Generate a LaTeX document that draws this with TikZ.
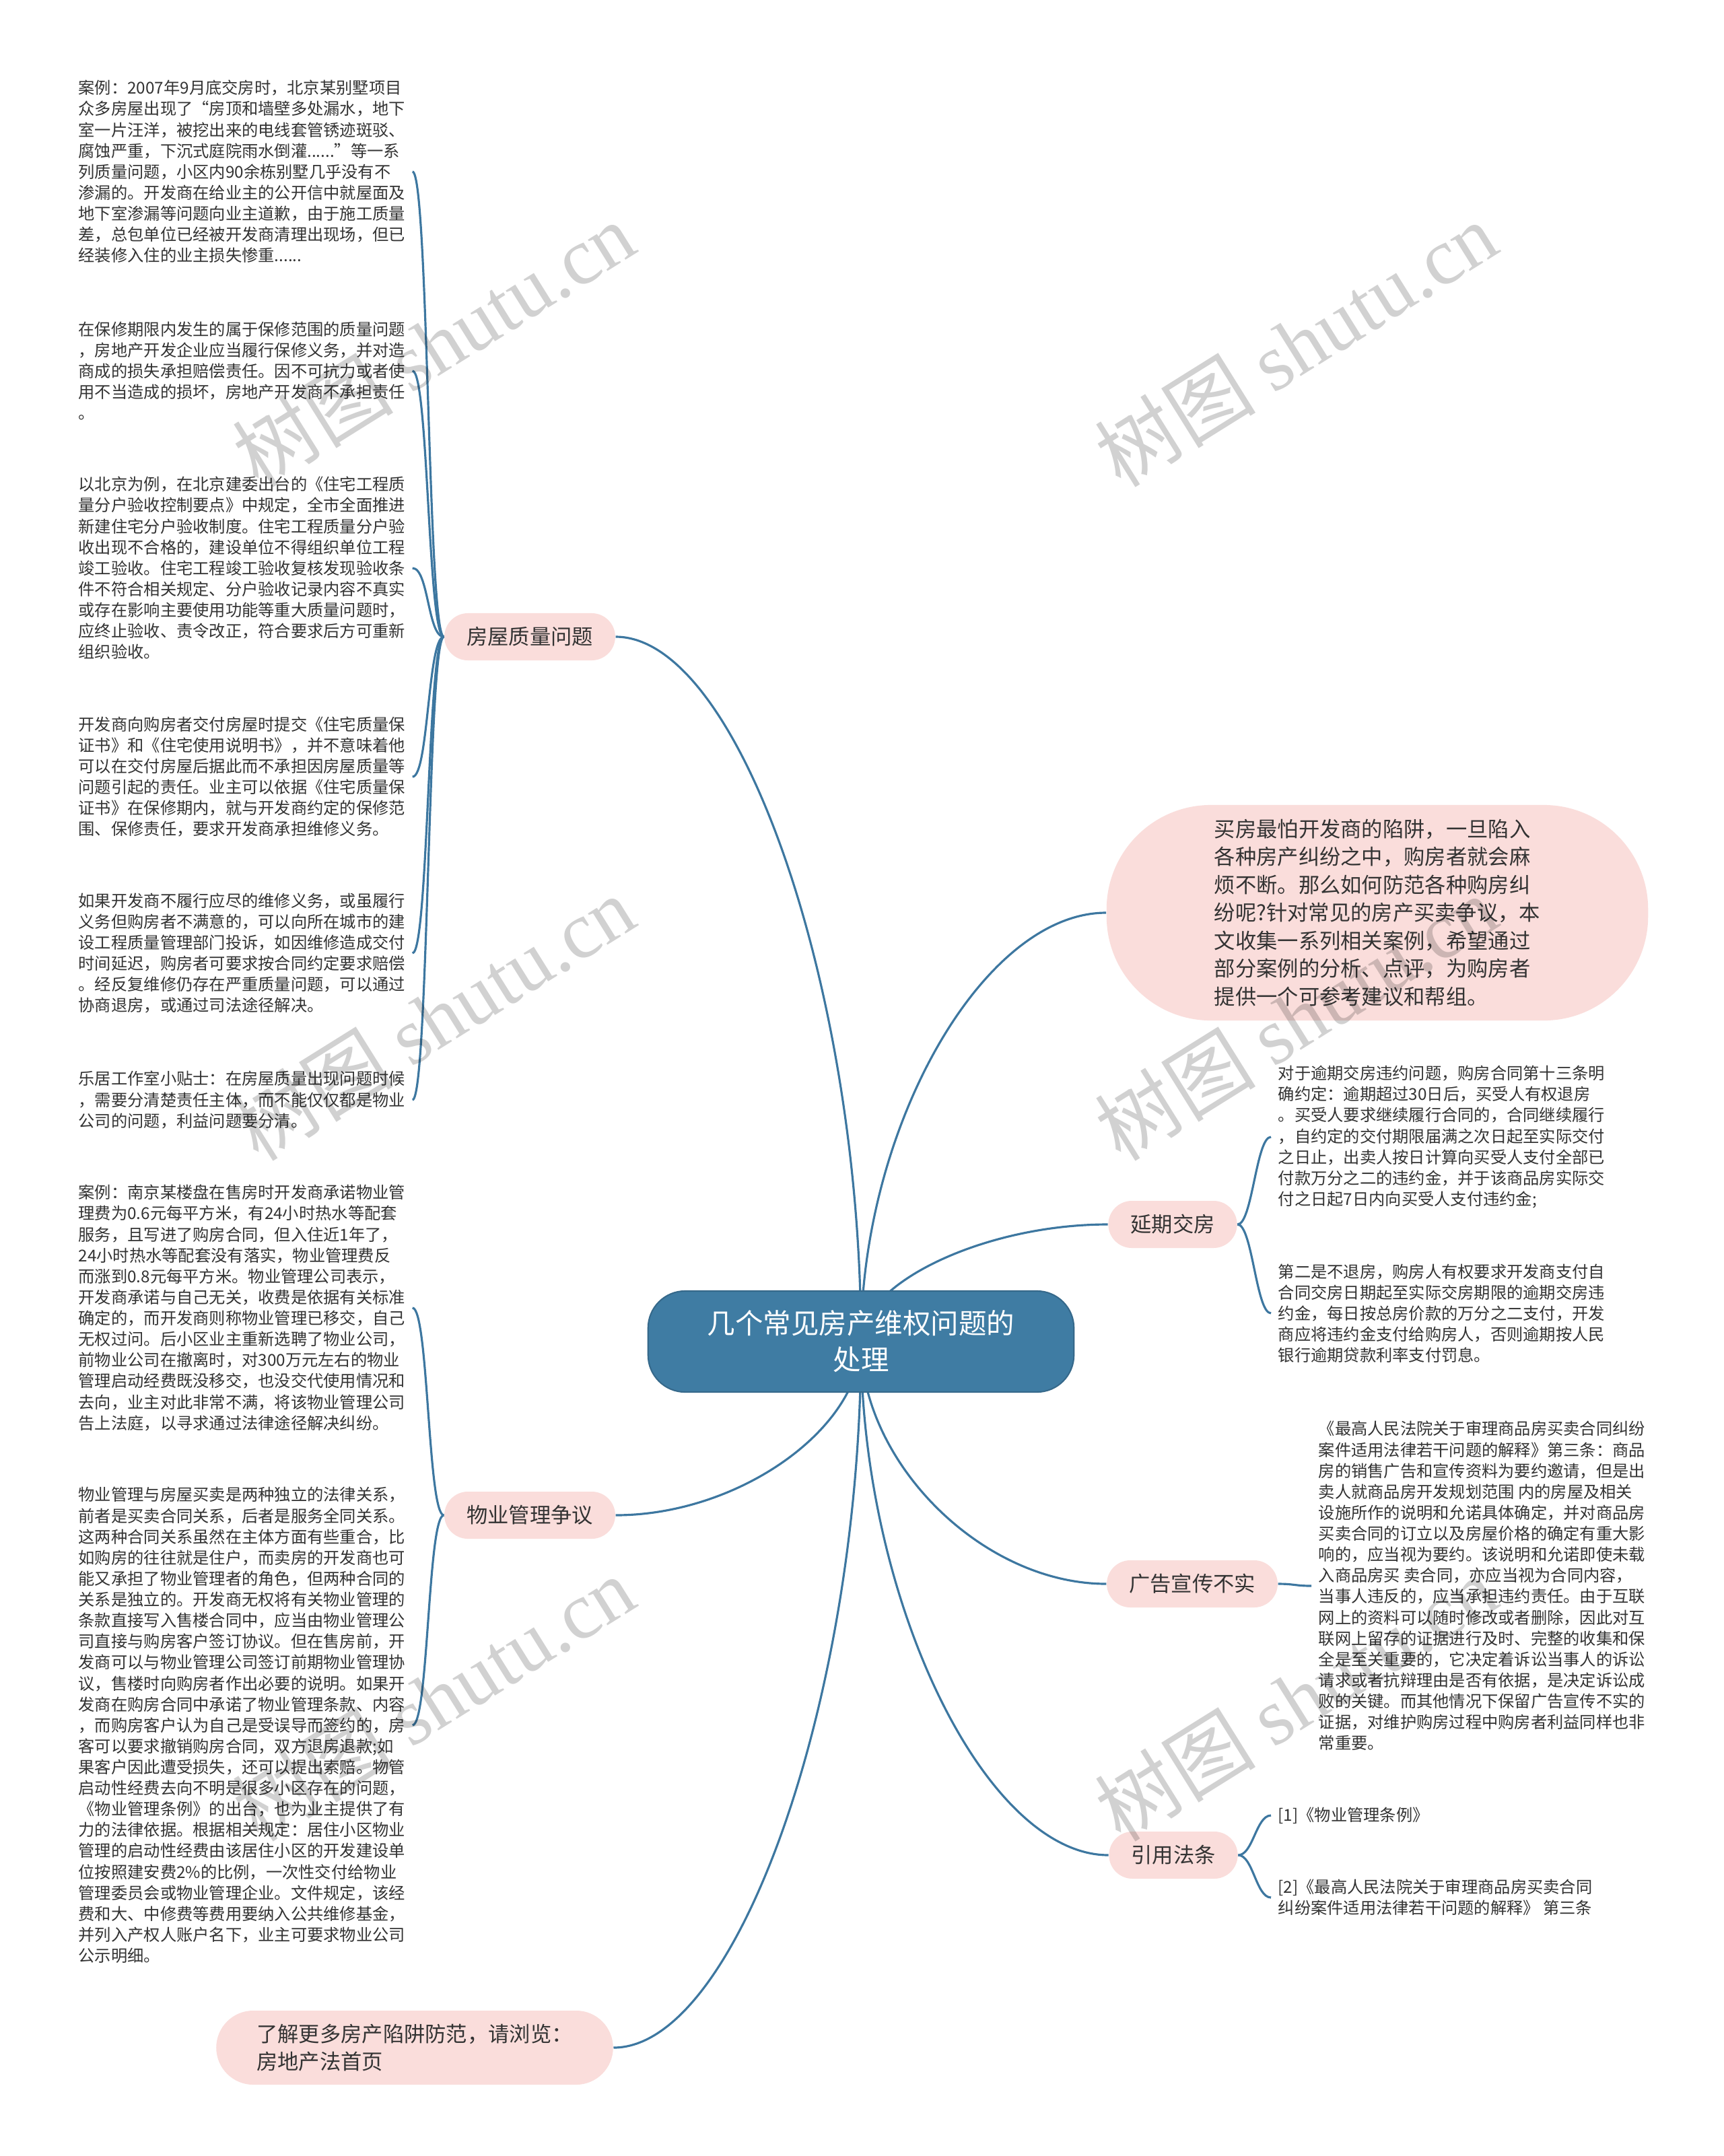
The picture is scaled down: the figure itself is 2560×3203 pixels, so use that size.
\documentclass[tikz,border=0pt]{standalone}
\usepackage{fontspec}
\setmainfont{Noto Sans CJK SC}
\newfontfamily\wmlatin{Liberation Serif}
\usetikzlibrary{backgrounds}

\definecolor{linkblue}{HTML}{3D77A0}
\definecolor{hubblue}{HTML}{3F7CA3}
\definecolor{pillpink}{HTML}{FADDDB}
\definecolor{inkgray}{HTML}{333333}

\begin{document}
\begin{tikzpicture}[
  x=0.01cm,y=-0.01cm,
  % every position below is a pixel of the sheet, y counted downwards
  link/.style={draw=linkblue,line width=0.9pt},
  spine/.style={link,to path={.. controls +(#1,0) and +(-#1,0) .. (\tikztotarget)}},
  hub/.style={fill=hubblue,draw=hubblue!85!black,line width=0.6pt,rounded corners=0.55cm,
    text=white,inner xsep=0.88cm,minimum height=1.5cm,align=center,
    font=\fontsize{11.8pt}{15.3pt}\selectfont},
  pill/.style={fill=pillpink,rounded corners=0.35cm,inner xsep=0.33cm,minimum height=0.7cm,
    text=inkgray,font=\fontsize{8.9pt}{11.8pt}\selectfont},
  leaf/.style={anchor=west,align=left,inner xsep=0.1cm,inner ysep=0.05cm,text=inkgray,
    font=\fontsize{6.9pt}{8.85pt}\selectfont},
  wm/.style={rotate=32,text=black,text opacity=0.18,font=\fontsize{34pt}{34pt}\selectfont},
]

%--- geometry ----------------------------------------------------------------
\def\leftx{106}        % west edge of the left-hand notes
\def\rightx{1888}      % west edge of the right-hand notes

\useasboundingbox (0,0) rectangle (2560,3203);

%--- the centre and its branches ---------------------------------------------
\node[hub] (main) at (1279,1993) {几个常见房产维权问题的\\处理};

\node[pill] (house) at (787,946) {房屋质量问题};
\node[pill] (prop) at (787,2251) {物业管理争议};
\node[pill,align=left,inner xsep=0.6cm,minimum height=1.1cm,rounded corners=0.55cm]
  (more) at (616,3042) {了解更多房产陷阱防范，请浏览：\\房地产法首页};

\node[pill,align=left,inner xsep=1.6cm,minimum height=3.2cm,rounded corners=1.55cm,
  font=\fontsize{8.9pt}{11.8pt}\selectfont] (intro) at (2046,1356)
  {买房最怕开发商的陷阱，一旦陷入\\各种房产纠纷之中，购房者就会麻\\烦不断。那么如何防范各种购房纠\\纷呢?针对常见的房产买卖争议，本\\文收集一系列相关案例，希望通过\\部分案例的分析、点评，为购房者\\提供一个可参考建议和帮组。};
\node[pill] (delay) at (1742,1819) {延期交房};
\node[pill] (ad) at (1771,2353) {广告宣传不实};
\node[pill] (cite) at (1743,2756) {引用法条};

%--- notes on the left -------------------------------------------------------
\node[leaf] (h1) at (\leftx,255) {案例：2007年9月底交房时，北京某别墅项目\\众多房屋出现了“房顶和墙壁多处漏水，地下\\室一片汪洋，被挖出来的电线套管锈迹斑驳、\\腐蚀严重，下沉式庭院雨水倒灌......”等一系\\列质量问题，小区内90余栋别墅几乎没有不\\渗漏的。开发商在给业主的公开信中就屋面及\\地下室渗漏等问题向业主道歉，由于施工质量\\差，总包单位已经被开发商清理出现场，但已\\经装修入住的业主损失惨重......};
\node[leaf] (h2) at (\leftx,551) {在保修期限内发生的属于保修范围的质量问题\\，房地产开发企业应当履行保修义务，并对造\\商成的损失承担赔偿责任。因不可抗力或者使\\用不当造成的损坏，房地产开发商不承担责任\\。};
\node[leaf] (h3) at (\leftx,844) {以北京为例，在北京建委出台的《住宅工程质\\量分户验收控制要点》中规定，全市全面推进\\新建住宅分户验收制度。住宅工程质量分户验\\收出现不合格的，建设单位不得组织单位工程\\竣工验收。住宅工程竣工验收复核发现验收条\\件不符合相关规定、分户验收记录内容不真实\\或存在影响主要使用功能等重大质量问题时，\\应终止验收、责令改正，符合要求后方可重新\\组织验收。};
\node[leaf] (h4) at (\leftx,1154) {开发商向购房者交付房屋时提交《住宅质量保\\证书》和《住宅使用说明书》，并不意味着他\\可以在交付房屋后据此而不承担因房屋质量等\\问题引起的责任。业主可以依据《住宅质量保\\证书》在保修期内，就与开发商约定的保修范\\围、保修责任，要求开发商承担维修义务。};
\node[leaf] (h5) at (\leftx,1416) {如果开发商不履行应尽的维修义务，或虽履行\\义务但购房者不满意的，可以向所在城市的建\\设工程质量管理部门投诉，如因维修造成交付\\时间延迟，购房者可要求按合同约定要求赔偿\\。经反复维修仍存在严重质量问题，可以通过\\协商退房，或通过司法途径解决。};
\node[leaf] (h6) at (\leftx,1634) {乐居工作室小贴士：在房屋质量出现问题时候\\，需要分清楚责任主体，而不能仅仅都是物业\\公司的问题，利益问题要分清。};

\node[leaf] (p1) at (\leftx,1943) {案例：南京某楼盘在售房时开发商承诺物业管\\理费为0.6元每平方米，有24小时热水等配套\\服务，且写进了购房合同，但入住近1年了，\\24小时热水等配套没有落实，物业管理费反\\而涨到0.8元每平方米。物业管理公司表示，\\开发商承诺与自己无关，收费是依据有关标准\\确定的，而开发商则称物业管理已移交，自己\\无权过问。后小区业主重新选聘了物业公司，\\前物业公司在撤离时，对300万元左右的物业\\管理启动经费既没移交，也没交代使用情况和\\去向，业主对此非常不满，将该物业管理公司\\告上法庭，以寻求通过法律途径解决纠纷。};
\node[leaf] (p2) at (\leftx,2563) {物业管理与房屋买卖是两种独立的法律关系，\\前者是买卖合同关系，后者是服务全同关系。\\这两种合同关系虽然在主体方面有些重合，比\\如购房的往往就是住户，而卖房的开发商也可\\能又承担了物业管理者的角色，但两种合同的\\关系是独立的。开发商无权将有关物业管理的\\条款直接写入售楼合同中，应当由物业管理公\\司直接与购房客户签订协议。但在售房前，开\\发商可以与物业管理公司签订前期物业管理协\\议，售楼时向购房者作出必要的说明。如果开\\发商在购房合同中承诺了物业管理条款、内容\\，而购房客户认为自己是受误导而签约的，房\\客可以要求撤销购房合同，双方退房退款;如\\果客户因此遭受损失，还可以提出索赔。物管\\启动性经费去向不明是很多小区存在的问题，\\《物业管理条例》的出台，也为业主提供了有\\力的法律依据。根据相关规定：居住小区物业\\管理的启动性经费由该居住小区的开发建设单\\位按照建安费2\%的比例，一次性交付给物业\\管理委员会或物业管理企业。文件规定，该经\\费和大、中修费等费用要纳入公共维修基金，\\并列入产权人账户名下，业主可要求物业公司\\公示明细。};

%--- notes on the right ------------------------------------------------------
\node[leaf] (d1) at (\rightx,1689) {对于逾期交房违约问题，购房合同第十三条明\\确约定：逾期超过30日后，买受人有权退房\\。买受人要求继续履行合同的，合同继续履行\\，自约定的交付期限届满之次日起至实际交付\\之日止，出卖人按日计算向买受人支付全部已\\付款万分之二的违约金，并于该商品房实际交\\付之日起7日内向买受人支付违约金;};
\node[leaf] (d2) at (\rightx,1951) {第二是不退房，购房人有权要求开发商支付自\\合同交房日期起至实际交房期限的逾期交房违\\约金，每日按总房价款的万分之二支付，开发\\商应将违约金支付给购房人，否则逾期按人民\\银行逾期贷款利率支付罚息。};
\node[leaf] (a1) at (1948,2356) {《最高人民法院关于审理商品房买卖合同纠纷\\案件适用法律若干问题的解释》第三条：商品\\房的销售广告和宣传资料为要约邀请，但是出\\卖人就商品房开发规划范围 内的房屋及相关\\设施所作的说明和允诺具体确定，并对商品房\\买卖合同的订立以及房屋价格的确定有重大影\\响的，应当视为要约。该说明和允诺即使未载\\入商品房买 卖合同，亦应当视为合同内容，\\当事人违反的，应当承担违约责任。由于互联\\网上的资料可以随时修改或者删除，因此对互\\联网上留存的证据进行及时、完整的收集和保\\全是至关重要的，它决定着诉讼当事人的诉讼\\请求或者抗辩理由是否有依据，是决定诉讼成\\败的关键。而其他情况下保留广告宣传不实的\\证据，对维护购房过程中购房者利益同样也非\\常重要。};
\node[leaf] (c1) at (\rightx,2697) {[1]《物业管理条例》};
\node[leaf] (c2) at (\rightx,2819) {[2]《最高人民法院关于审理商品房买卖合同\\纠纷案件适用法律若干问题的解释》 第三条};

%--- connectors --------------------------------------------------------------
\begin{pgfonlayer}{background}
\fill[white] (0,0) rectangle (2560,3203);
% from the centre each branch leaves vertically and arrives level
\draw[link] (main.center) .. controls +(0,-524) and +(183,0) .. (house.east);
\draw[link] (main.center) .. controls +(0,129) and +(183,0) .. (prop.east);
\draw[link] (main.center) .. controls +(0,525) and +(184,0) .. (more.east);
\draw[link] (main.center) .. controls +(0,-318) and +(-183,0) .. (intro.west);
\draw[link] (main.center) .. controls +(0,-87) and +(-183,0) .. (delay.west);
\draw[link] (main.center) .. controls +(0,180) and +(-184,0) .. (ad.west);
\draw[link] (main.center) .. controls +(0,382) and +(-184,0) .. (cite.west);
\end{pgfonlayer}

\foreach \n in {h1,h2,h3,h4,h5,h6}
  \draw[spine=-24] (house.west) to (\n.east);
\foreach \n in {p1,p2}
  \draw[spine=-24] (prop.west) to (\n.east);
\foreach \n in {d1,d2}
  \draw[spine=22] (delay.east) to (\n.west);
\draw[spine=24] (ad.east) to (a1.west);
\foreach \n in {c1,c2}
  \draw[spine=22] (cite.east) to (\n.west);

%--- watermark ---------------------------------------------------------------
\foreach \wx/\wy [count=\i] in {644/511,1925/511,644/1512,1925/1512,644/2523,1925/2523}
  \node[wm] (wm\i) at (\wx,\wy) {树图 {\wmlatin shutu.cn}};

\end{tikzpicture}
\end{document}
